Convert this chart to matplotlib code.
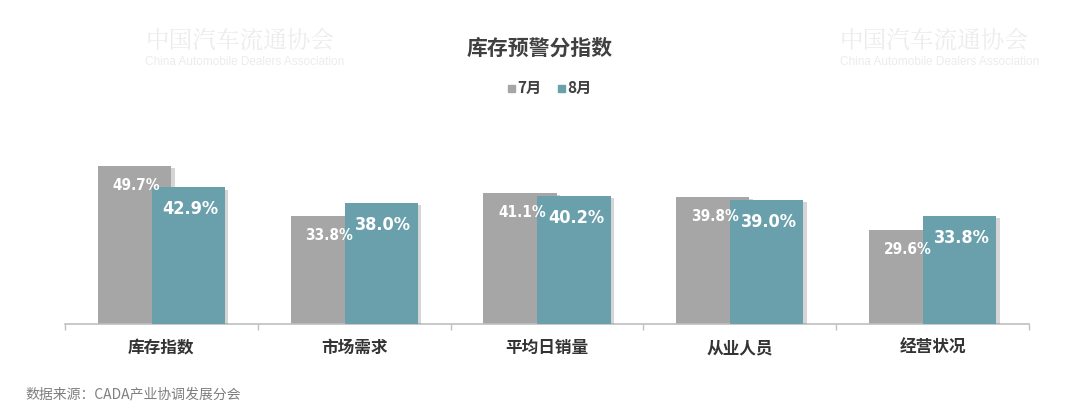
import matplotlib
matplotlib.use("Agg")
import matplotlib.pyplot as plt
import matplotlib.patheffects as pe
import numpy as np

categories = ["库存指数", "市场需求", "平均日销量", "从业人员", "经营状况"]
series_names = ["7月", "8月"]
july = [49.7, 33.8, 41.1, 39.8, 29.6]
august = [42.9, 38.0, 40.2, 39.0, 33.8]

CJK = ["Noto Sans CJK SC", "DejaVu Sans"]
NUM = ["DejaVu Sans"]
gray = "#a6a6a6"
teal = "#6a9fac"

fig = plt.figure(figsize=(10.8, 4.13), dpi=100)
fig.patch.set_facecolor("white")
ax = fig.add_axes([65/1080, 89/413, 964/1080, 191/413])

# watermarks (top ones only)
wm = [(145, 40), (840, 40)]
for (wx, wy) in wm:
    fig.text(wx/1080, 1 - wy/413, "中国汽车流通协会", family=["Noto Serif CJK SC", "Noto Sans CJK SC"],
             fontsize=17, color="#ececec", va="center", ha="left", zorder=0)
    fig.text(wx/1080, 1 - (wy + 22)/413, "China Automobile Dealers Association", family=["Liberation Sans", "DejaVu Sans"],
             fontsize=8.5, color="#ececec", va="center", ha="left", zorder=0)

x = np.arange(len(categories))
w = 0.38
off = 0.14
shadow = [pe.SimplePatchShadow(offset=(2.5, -1.5), shadow_rgbFace="#888888", alpha=0.35), pe.Normal()]
b1 = ax.bar(x - off, july, width=w, color=gray, zorder=2)
b2 = ax.bar(x + off, august, width=w, color=teal, zorder=3)
for b in list(b1) + list(b2):
    b.set_path_effects(shadow)

for xi, v in zip(x, july):
    ax.text(xi - off + 0.01, v - 6.1, f"{v:.1f}%", ha="center", va="center", color="white",
            fontsize=11, fontweight="bold", family=NUM, fontstretch="condensed", zorder=5)
for xi, v in zip(x, august):
    ax.text(xi + off + 0.01, v - 6.9, f"{v:.1f}%", ha="center", va="center", color="white",
            fontsize=13, fontweight="bold", family=NUM, fontstretch="condensed", zorder=5)

ax.set_xlim(-0.5, 4.5)
ax.set_ylim(0, 60)
for s in ["top", "right", "left"]:
    ax.spines[s].set_visible(False)
ax.spines["bottom"].set_color("#bfbfbf")
ax.spines["bottom"].set_linewidth(1.2)
ax.set_yticks([])
ax.set_xticks(x)
ax.set_xticklabels(categories, family=CJK, fontsize=12, fontweight="bold", color="#333333")
ax.tick_params(axis="x", which="major", length=0, pad=11)
ax.set_xticks(np.arange(-0.5, 5.0, 1.0), minor=True)
ax.tick_params(axis="x", which="minor", length=4, color="#bfbfbf", width=1)
ax.patch.set_alpha(0)

fig.text(0.5, 1 - 48/413, "库存预警分指数", ha="center", va="center", family=CJK,
         fontsize=15, fontweight="bold", color="#404040")

# legend
leg_y = 1 - 88/413
fig.patches.append(plt.Rectangle((508/1080, leg_y - 4/413), 7/1080, 7/413, color=gray, transform=fig.transFigure, figure=fig))
fig.text(517/1080, leg_y, series_names[0], ha="left", va="center", family=CJK, fontsize=11, fontweight="bold", color="#404040")
fig.patches.append(plt.Rectangle((558/1080, leg_y - 4/413), 7/1080, 7/413, color=teal, transform=fig.transFigure, figure=fig))
fig.text(567/1080, leg_y, series_names[1], ha="left", va="center", family=CJK, fontsize=11, fontweight="bold", color="#404040")

fig.text(25/1080, 1 - 394/413, "数据来源：CADA产业协调发展分会", ha="left", va="center", family=CJK,
         fontsize=10, color="#7f7f7f")

fig.savefig("out.png", dpi=100, facecolor="white")
